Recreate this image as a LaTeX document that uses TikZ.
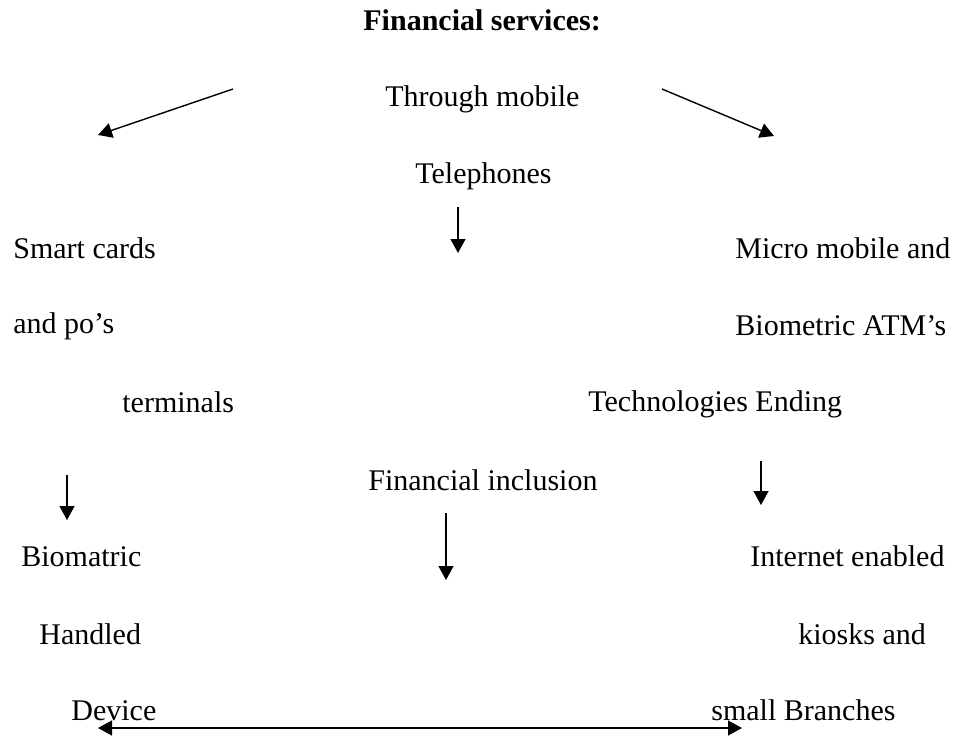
\documentclass[tikz,border=0pt]{standalone}
\usepackage{fontspec}
\setmainfont{Liberation Serif}
\usetikzlibrary{arrows.meta}

\tikzset{
  lbl/.style={anchor=base west, inner sep=0pt, font=\fontsize{15}{18}\selectfont},
  flow/.style={-{Triangle[length=7pt,width=7.5pt]}, line width=0.7pt},
  both/.style={{Triangle[length=7pt,width=7.5pt]}-{Triangle[length=7pt,width=7.5pt]}, line width=0.7pt},
}

\begin{document}
\begin{tikzpicture}[x=0.5pt, y=-0.5pt]
            \useasboundingbox (0, 0) rectangle (955, 736);

            % Rubrik och mitten
            \node[lbl, font=\fontsize{15}{18}\selectfont\bfseries] (title) at (363, 30) {Financial services:};
            \node[lbl] (thru) at (385, 106) {Through mobile};
            \node[lbl] (tel) at (415, 183) {Telephones};
            \node[lbl] (incl) at (368, 490) {Financial inclusion};

            % Vänstra grenen
            \node[lbl] (smart) at (13, 258) {Smart cards};
            \node[lbl] (pos) at (13, 333) {and po's};
            \node[lbl] (term) at (122, 412) {terminals};
            \node[lbl] (bio) at (21, 566) {Biomatric};
            \node[lbl] (hand) at (39, 644) {Handled};
            \node[lbl] (dev) at (71, 720) {Device};

            % Högra grenen
            \node[lbl] (micro) at (735, 258) {Micro mobile and};
            \node[lbl] (atm) at (735, 335) {Biometric ATM's};
            \node[lbl] (tech) at (588, 411) {Technologies Ending};
            \node[lbl] (net) at (750, 566) {Internet enabled};
            \node[lbl] (kiosk) at (798, 644) {kiosks and};
            \node[lbl] (branch) at (711, 720) {small Branches};

            % Pilarnas ändpunkter
            \coordinate (dl0) at (233, 89);   \coordinate (dl1) at (98, 135);
            \coordinate (dr0) at (662, 89);   \coordinate (dr1) at (774, 136);
            \coordinate (tm0) at (458, 207);  \coordinate (tm1) at (458, 253);
            \coordinate (lt0) at (67, 475);   \coordinate (lt1) at (67, 520);
            \coordinate (rt0) at (761, 461);  \coordinate (rt1) at (761, 505);
            \coordinate (ct0) at (446, 513);  \coordinate (ct1) at (446, 580);
            \coordinate (bl) at (98, 728);    \coordinate (br) at (742, 728);

            % Pilar
            \draw[flow] (dl0) -- (dl1);
            \draw[flow] (dr0) -- (dr1);
            \draw[flow] (tm0) -- (tm1);
            \draw[flow] (lt0) -- (lt1);
            \draw[flow] (rt0) -- (rt1);
            \draw[flow] (ct0) -- (ct1);
            \draw[both] (bl) -- (br);
        \end{tikzpicture}
\end{document}
